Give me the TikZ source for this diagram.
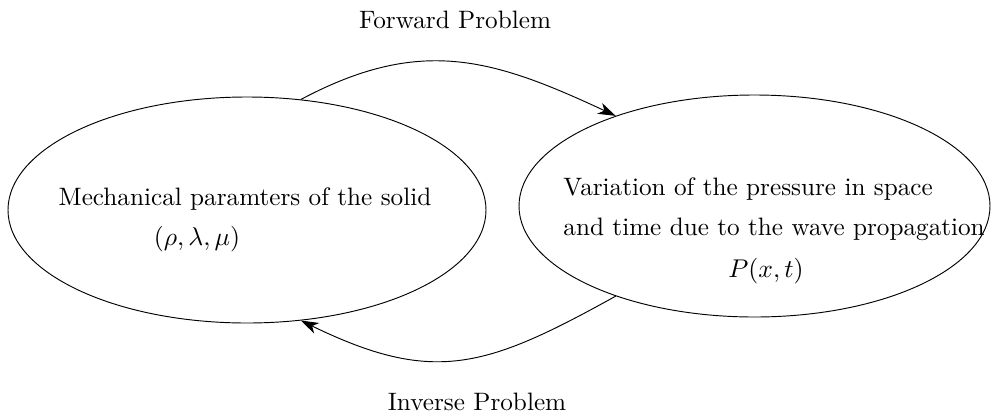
\documentclass[tikz,border=0pt]{standalone}
\usepackage{amsmath,amssymb}
\usepackage{tikz}
\usetikzlibrary{arrows.meta,shapes.geometric}

\begin{document}
\begin{tikzpicture}[
    font=\fontsize{10.75pt}{13pt}\selectfont,
    regionoval/.style={draw,ellipse,inner sep=0pt,thin},
    problemarrow/.style={-{Stealth[length=7.5pt,width=5pt,inset=2.2pt]},thin}
  ]
    \useasboundingbox (0,0) rectangle (14.925,6.225);
    % the two ellipses
    \node[regionoval,minimum width=7.17cm,minimum height=3.39cm] (solid) at (3.705,3.075) {};
    \node[regionoval,minimum width=7.065cm,minimum height=3.33cm] (pressure) at (11.3175,3.135) {};
    % texts inside
    \node[anchor=base] (solidtxt) at (3.675,3.15) {Mechanical paramters of the solid};
    \node[anchor=base] (solidpar) at (2.955,2.55) {$(\rho,\lambda,\mu)$};
    \node[anchor=base west,inner sep=0pt] (pressuretxta) at (8.445,3.3)
      {Variation of the pressure in space};
    \node[anchor=base west,inner sep=0pt] (pressuretxtb) at (8.445,2.7)
      {and time due to the wave propagation};
    \node[anchor=base] (pressurepar) at (11.49,2.07) {$P(x,t)$};
    % the two problems
    \node[anchor=base] (fwdlabel) at (6.825,5.805) {Forward Problem};
    \node[anchor=base] (invlabel) at (7.155,0.075) {Inverse Problem};
    \draw[problemarrow] (solid.64) to[out=28,in=155,looseness=1.1] (pressure.147);
    \draw[problemarrow] (pressure.213) to[out=209,in=-26,looseness=1.2] (solid.296);
  \end{tikzpicture}
\end{document}
